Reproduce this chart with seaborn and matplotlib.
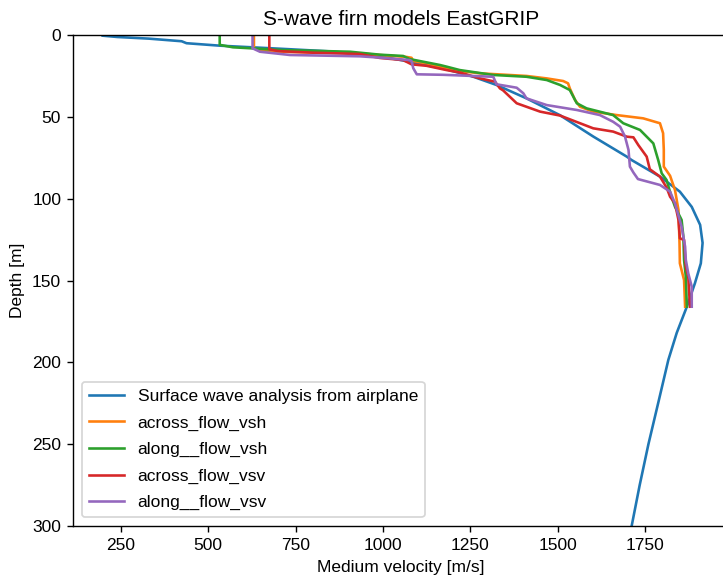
import matplotlib
matplotlib.use("Agg")
from matplotlib import pyplot as plt
import seaborn as sns
import pandas as pd

# surface wave analysis from airplane
surf_v = [198, 240, 330, 424, 438, 533, 700, 850, 991, 1082, 1182, 1259, 1325,
          1411, 1507, 1602, 1698, 1712, 1793, 1850, 1884, 1908, 1915, 1910, 1893,
          1870, 1841, 1817, 1790, 1760, 1735, 1712]
surf_d = [0.4, 1.2, 2.2, 3.8, 5.0, 6.5, 8.3, 10.0, 13.0, 16.5, 21.0, 25.5, 30.5,
          38.7, 49.0, 62.0, 74.3, 76.4, 86.5, 95.7, 105.0, 116.0, 127.0, 139.5, 151.7,
          166.0, 182.0, 198.5, 223.0, 250.0, 275.0, 300.0]

across_vsh_v = [631, 631, 650, 734, 850, 934, 991, 1068, 1082, 1087, 1125, 1182, 1220,
                1278, 1411, 1469, 1516, 1530, 1535, 1550, 1564, 1602, 1669, 1745, 1793,
                1802, 1804, 1804, 1822, 1836, 1846, 1849, 1850, 1862, 1865]
across_vsh_d = [0, 8.1, 9.8, 10.4, 10.8, 11.2, 12.2, 13.4, 13.9, 15.9, 17.3, 20.3, 22.0,
                23.4, 25.0, 26.5, 28.1, 29.5, 32.6, 39.7, 43.8, 46.8, 48.9, 50.9, 53.9,
                60.0, 70.0, 80.4, 86.0, 94.7, 106.9, 127.2, 139.5, 149.7, 166.0]

along_vsh_v = [533, 533, 571, 715, 906, 991, 1058, 1077, 1163, 1182, 1220, 1316, 1411,
               1469, 1507, 1535, 1555, 1583, 1659, 1688, 1736, 1774, 1788, 1798, 1812,
               1826, 1836, 1855, 1860, 1862, 1867, 1870]
along_vsh_d = [0, 6.0, 7.5, 9.2, 10.2, 12.0, 12.8, 14.7, 18.3, 19.3, 21.4, 24.4, 25.5,
               27.5, 30.5, 33.6, 41.7, 44.8, 48.9, 53.9, 58.0, 66.2, 76.4, 84.5, 88.6,
               98.8, 104.9, 113.0, 123.2, 137.4, 147.6, 166.0]

across_vsv_v = [675, 675, 700, 800, 934, 991, 1058, 1082, 1125, 1182, 1220, 1278, 1321,
                1335, 1344, 1383, 1450, 1507, 1602, 1659, 1698, 1717, 1731, 1755, 1764,
                1793, 1812, 1822, 1836, 1846, 1850, 1862, 1867, 1874, 1879]
across_vsv_d = [0, 8.7, 9.8, 10.8, 11.6, 14.0, 15.3, 17.9, 18.8, 21.4, 22.9, 26.5, 28.5,
                32.6, 33.8, 41.7, 46.8, 49.2, 57.0, 59.0, 62.1, 62.5, 67.2, 74.3, 82.0,
                86.5, 93.2, 98.8, 102.8, 113.0, 124.2, 125.2, 141.5, 147.6, 166.0]

along_vsv_v = [627, 627, 648, 734, 934, 991, 1077, 1082, 1087, 1097, 1173, 1316, 1325,
               1364, 1383, 1402, 1411, 1469, 1555, 1621, 1659, 1679, 1693, 1703, 1707,
               1717, 1730, 1793, 1822, 1836, 1855, 1865, 1867, 1874, 1884, 1884]
along_vsv_d = [0, 8.1, 10.2, 12.2, 13.0, 13.8, 15.3, 15.9, 20.3, 24.0, 24.3, 25.5, 30.1,
               31.5, 32.2, 35.6, 38.7, 42.8, 45.8, 48.9, 53.0, 56.0, 62.1, 70.2, 80.4,
               84.0, 88.0, 91.6, 95.7, 102.8, 117.1, 129.3, 137.4, 145.6, 153.8, 166.0]

labels = ["Surface wave analysis from airplane", "across_flow_vsh", "along__flow_vsh",
          "across_flow_vsv", "along__flow_vsv"]
series = [(surf_v, surf_d), (across_vsh_v, across_vsh_d), (along_vsh_v, along_vsh_d),
          (across_vsv_v, across_vsv_d), (along_vsv_v, along_vsv_d)]

frames = []
for name, (v, d) in zip(labels, series):
    frames.append(pd.DataFrame({"velocity": v, "depth": d, "model": name}))
df = pd.concat(frames, ignore_index=True)

plt.rcParams["font.family"] = ["Liberation Sans", "DejaVu Sans"]

fig = plt.figure(figsize=(5.784, 4.632), dpi=125)
ax = fig.add_axes([0.1014, 0.0915, 0.9066, 0.848])
sns.lineplot(data=df, x="velocity", y="depth", hue="model", hue_order=labels,
             palette="tab10", sort=False, estimator=None, ax=ax, linewidth=1.5)
ax.set_xlim(114, 1990)
ax.set_ylim(300, 0)
ax.set_xticks([250, 500, 750, 1000, 1250, 1500, 1750])
ax.set_title("S-wave firn models EastGRIP")
ax.set_xlabel("Medium velocity [m/s]")
ax.set_ylabel("Depth [m]")
sns.move_legend(ax, "lower left", title=None, labelspacing=0.65)
fig.savefig("out.png", dpi=125)
